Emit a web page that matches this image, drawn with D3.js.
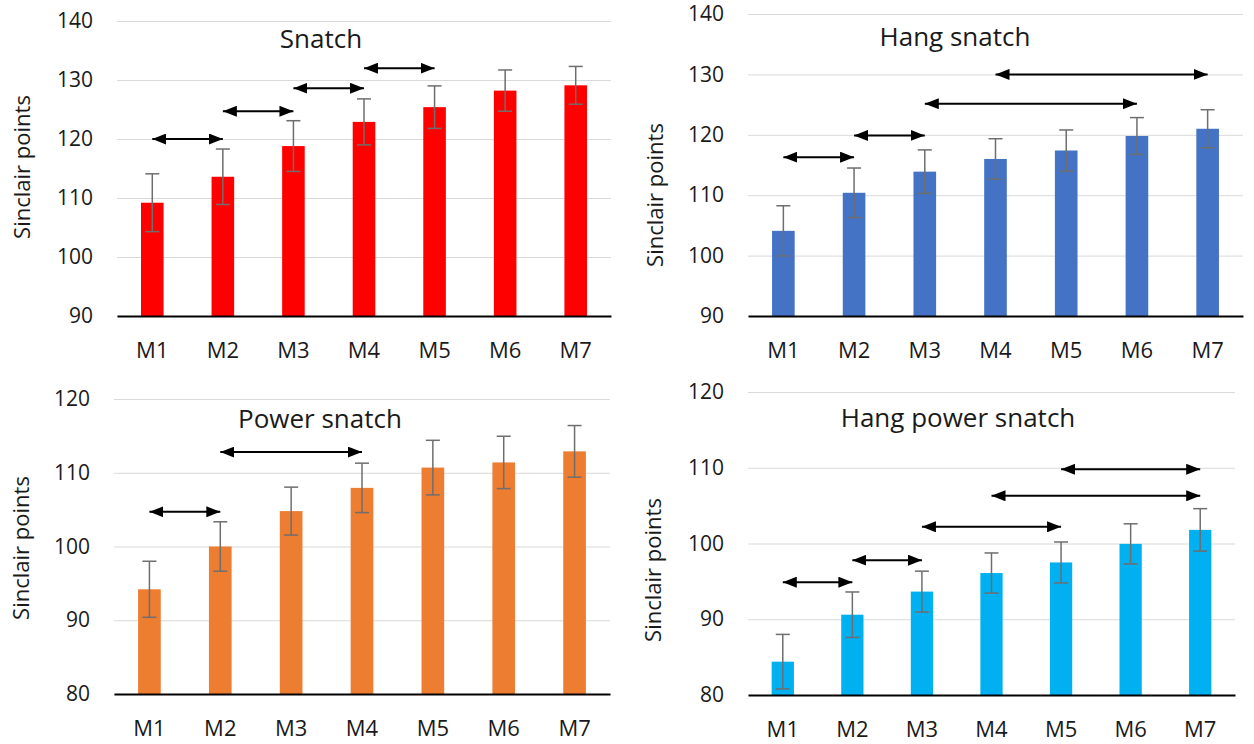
<!DOCTYPE html>
<html>
<head>
<meta charset="utf-8">
<script src="https://cdn.jsdelivr.net/npm/d3@7"></script>
<style>
  body { margin: 0; background: #fff; }
  svg { display: block; font-family: 'Open Sans', sans-serif; }
</style>
</head>
<body>
<svg id="chart" width="1254" height="744"></svg>
<script>
// Sessions on the x axis
const sessions = ['M1', 'M2', 'M3', 'M4', 'M5', 'M6', 'M7'];

// Mean Sinclair points and SD per session
const snatchMean = [109.2, 113.6, 118.8, 122.9, 125.4, 128.2, 129.1];
const snatchSD = [4.9, 4.7, 4.3, 3.9, 3.6, 3.5, 3.2];
const hangSnatchMean = [104.1, 110.4, 113.9, 116.0, 117.4, 119.8, 121.0];
const hangSnatchSD = [4.15, 4.1, 3.6, 3.35, 3.4, 3.05, 3.15];
const powerSnatchMean = [94.2, 100.0, 104.8, 107.95, 110.7, 111.4, 112.9];
const powerSnatchSD = [3.8, 3.35, 3.25, 3.35, 3.7, 3.55, 3.5];
const hangPowerSnatchMean = [84.4, 90.6, 93.65, 96.1, 97.5, 99.95, 101.8];
const hangPowerSnatchSD = [3.6, 3.0, 2.7, 2.65, 2.7, 2.65, 2.8];

// Significance arrows: [from, to, height in points]
const snatchArrows = [['M1', 'M2', 120.0], ['M2', 'M3', 124.7], ['M3', 'M4', 128.6], ['M4', 'M5', 132.0]];
const hangSnatchArrows = [['M1', 'M2', 116.3], ['M2', 'M3', 119.9], ['M3', 'M6', 125.15], ['M4', 'M7', 130.0]];
const powerSnatchArrows = [['M1', 'M2', 104.7], ['M2', 'M4', 112.8]];
const hangPowerSnatchArrows = [['M1', 'M2', 94.9], ['M2', 'M3', 97.8], ['M3', 'M5', 102.2], ['M4', 'M7', 106.3], ['M5', 'M7', 109.8]];

const panels = [
  { title: 'Snatch', mean: snatchMean, sd: snatchSD, arrows: snatchArrows,
    color: '#ff0000', domain: [90, 140], x: [117, 611], y: [316, 21],
    titleX: 321, titleY: 48, labelX: 21, labelY: 167 },
  { title: 'Hang snatch', mean: hangSnatchMean, sd: hangSnatchSD, arrows: hangSnatchArrows,
    color: '#4472c4', domain: [90, 140], x: [748, 1243], y: [316, 14],
    titleX: 955, titleY: 46, labelX: 654, labelY: 195 },
  { title: 'Power snatch', mean: powerSnatchMean, sd: powerSnatchSD, arrows: powerSnatchArrows,
    color: '#ed7d31', domain: [80, 120], x: [114, 610], y: [694, 399],
    titleX: 320, titleY: 428, labelX: 20, labelY: 548 },
  { title: 'Hang power snatch', mean: hangPowerSnatchMean, sd: hangPowerSnatchSD, arrows: hangPowerSnatchArrows,
    color: '#00b0f0', domain: [80, 120], x: [748, 1235], y: [695, 392],
    titleX: 958, titleY: 427, labelX: 652, labelY: 570 }
];

const svg = d3.select('#chart');

svg.append('defs').append('marker')
  .attr('id', 'head')
  .attr('markerUnits', 'userSpaceOnUse')
  .attr('markerWidth', 15)
  .attr('markerHeight', 11)
  .attr('refX', 14)
  .attr('refY', 5.5)
  .attr('orient', 'auto-start-reverse')
  .append('path')
  .attr('d', 'M0,0L14,5.5L0,11Z')
  .attr('fill', '#000');

panels.forEach(p => {
  const g = svg.append('g');

  const x = d3.scaleBand().domain(sessions).range(p.x).padding(0);
  const y = d3.scaleLinear().domain(p.domain).range(p.y);
  const ticks = d3.range(p.domain[0], p.domain[1] + 1, 10);

  // Gridlines
  g.append('g')
    .attr('transform', `translate(${p.x[0]},0)`)
    .call(d3.axisLeft(y).tickValues(ticks).tickSize(-(p.x[1] - p.x[0])).tickFormat(''))
    .call(a => a.select('.domain').remove())
    .selectAll('line')
    .attr('stroke', '#d9d9d9');

  // Tick labels
  g.append('g')
    .attr('transform', `translate(${p.x[0]},0)`)
    .call(d3.axisLeft(y).tickValues(ticks).tickSize(0).tickPadding(24))
    .call(a => a.select('.domain').remove())
    .selectAll('text')
    .attr('font-size', 21)
    .attr('font-family', 'Open Sans')
    .attr('fill', '#1a1a1a');

  // Bars
  const bw = x.bandwidth() * 0.32;
  g.selectAll('.bar')
    .data(sessions)
    .join('rect')
    .attr('x', d => x(d) + x.bandwidth() / 2 - bw / 2)
    .attr('y', (d, i) => y(p.mean[i]))
    .attr('width', bw)
    .attr('height', (d, i) => y(p.domain[0]) - y(p.mean[i]))
    .attr('fill', p.color);

  // Error bars
  const err = g.selectAll('.err')
    .data(sessions)
    .join('g')
    .attr('transform', d => `translate(${x(d) + x.bandwidth() / 2},0)`)
    .attr('stroke', '#6e6e6e')
    .attr('stroke-width', 1.5);
  err.append('line')
    .attr('y1', (d, i) => y(p.mean[i] - p.sd[i]))
    .attr('y2', (d, i) => y(p.mean[i] + p.sd[i]));
  err.append('line')
    .attr('x1', -7).attr('x2', 7)
    .attr('y1', (d, i) => y(p.mean[i] + p.sd[i]))
    .attr('y2', (d, i) => y(p.mean[i] + p.sd[i]));
  err.append('line')
    .attr('x1', -7).attr('x2', 7)
    .attr('y1', (d, i) => y(p.mean[i] - p.sd[i]))
    .attr('y2', (d, i) => y(p.mean[i] - p.sd[i]));

  // x axis
  g.append('g')
    .attr('transform', `translate(0,${p.y[0]})`)
    .call(d3.axisBottom(x).tickSize(0).tickPadding(26))
    .call(a => a.select('.domain').attr('stroke', '#000').attr('stroke-width', 2))
    .selectAll('text')
    .attr('font-size', 22)
    .attr('font-family', 'Open Sans')
    .attr('fill', '#1a1a1a');

  // Arrows
  g.selectAll('.arrow')
    .data(p.arrows)
    .join('line')
    .attr('x1', d => x(d[0]) + x.bandwidth() / 2)
    .attr('x2', d => x(d[1]) + x.bandwidth() / 2)
    .attr('y1', d => y(d[2]))
    .attr('y2', d => y(d[2]))
    .attr('stroke', '#000')
    .attr('stroke-width', 2)
    .attr('marker-start', 'url(#head)')
    .attr('marker-end', 'url(#head)');

  // Title
  g.append('text')
    .attr('x', p.titleX)
    .attr('y', p.titleY)
    .attr('text-anchor', 'middle')
    .attr('font-size', 26)
    .attr('fill', '#1a1a1a')
    .text(p.title);

  // y label
  g.append('text')
    .attr('transform', `translate(${p.labelX},${p.labelY}) rotate(-90)`)
    .attr('text-anchor', 'middle')
    .attr('dominant-baseline', 'central')
    .attr('font-size', 22)
    .attr('fill', '#1a1a1a')
    .text('Sinclair points');
});
</script>
</body>
</html>
